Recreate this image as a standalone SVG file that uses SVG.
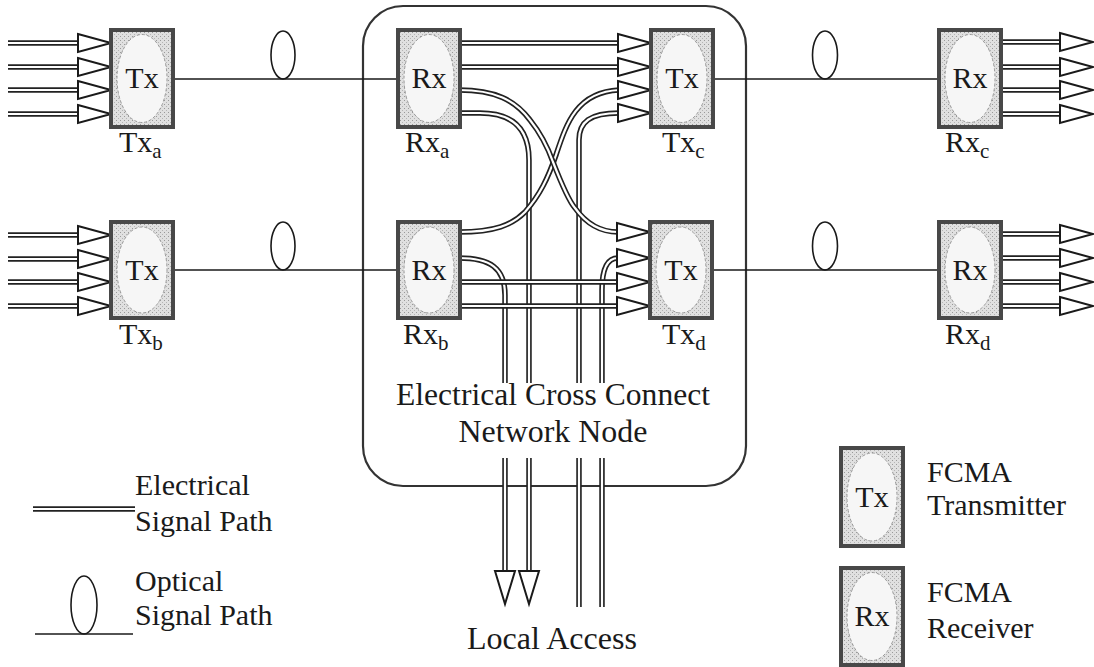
<svg xmlns="http://www.w3.org/2000/svg" xmlns:xlink="http://www.w3.org/1999/xlink" width="1094" height="667" viewBox="0 0 1094 667" font-family="'Liberation Serif', 'Times New Roman', serif">
<style>
text{font-family:'Liberation Serif','Times New Roman',serif;fill:#1a1a1a}
.lbl{font-size:30px}
.sub{font-size:21px}
.big{font-size:31px}
.box{fill:url(#stip);stroke:#484848;stroke-width:4}
.oval{fill:#f6f6f6;stroke:#9a9a9a;stroke-width:1;stroke-dasharray:3 2}
.po{fill:none;stroke:#222;stroke-width:5.5}
.pi{fill:none;stroke:#fff;stroke-width:2.2}
.head{fill:#fff;stroke:#1a1a1a;stroke-width:2;stroke-linejoin:miter}
.opt{fill:none;stroke:#1a1a1a;stroke-width:1.6}
.frame{fill:none;stroke:#333;stroke-width:2.2}
</style>
<defs>
<pattern id="stip" width="4" height="4" patternUnits="userSpaceOnUse">
<rect width="4" height="4" fill="#e0e0e0"/>
<rect x="0" y="0" width="1" height="1" fill="#999"/>
<rect x="2" y="2" width="1" height="1" fill="#b5b5b5"/>
</pattern>
<polygon id="ahR" class="head" points="-33,-9 0,0 -33,9"/>
<polygon id="ahD" class="head" points="-10,-33 0,0 10,-33"/>
</defs>
<rect width="1094" height="667" fill="#fff"/>

<g id="crossconnect">
<rect class="frame" x="363" y="6" width="383" height="480" rx="40"/>
<text class="big" x="553" y="405" text-anchor="middle" textLength="314" lengthAdjust="spacingAndGlyphs">Electrical Cross Connect</text>
<text class="big" x="553" y="442" text-anchor="middle" textLength="189" lengthAdjust="spacingAndGlyphs">Network Node</text>
</g>

<g id="optical">
<path class="opt" d="M173,79 H398 M712,79 H939 M173,270 H398 M711,270 H939"/>
<ellipse class="opt" cx="283" cy="55" rx="12" ry="24"/>
<ellipse class="opt" cx="825" cy="55" rx="12.5" ry="24"/>
<ellipse class="opt" cx="283" cy="246" rx="12" ry="24"/>
<ellipse class="opt" cx="825" cy="246" rx="12.5" ry="24"/>
</g>

<g id="connectors">
<path class="po" d="M8,43 H79 M8,67 H79 M8,90 H79 M8,114 H79 M8,235 H79 M8,259 H79 M8,282 H79 M8,306 H79"/>
<path class="pi" d="M8,43 H79 M8,67 H79 M8,90 H79 M8,114 H79 M8,235 H79 M8,259 H79 M8,282 H79 M8,306 H79"/>
<use xlink:href="#ahR" x="111" y="43"/><use xlink:href="#ahR" x="111" y="67"/><use xlink:href="#ahR" x="111" y="90"/><use xlink:href="#ahR" x="111" y="114"/>
<use xlink:href="#ahR" x="111" y="235"/><use xlink:href="#ahR" x="111" y="259"/><use xlink:href="#ahR" x="111" y="282"/><use xlink:href="#ahR" x="111" y="306"/>
<path class="po" d="M999,42 H1061 M999,67 H1061 M999,90 H1061 M999,114 H1061 M999,234 H1061 M999,258 H1061 M999,282 H1061 M999,306 H1061"/>
<path class="pi" d="M999,42 H1061 M999,67 H1061 M999,90 H1061 M999,114 H1061 M999,234 H1061 M999,258 H1061 M999,282 H1061 M999,306 H1061"/>
<use xlink:href="#ahR" x="1093" y="42"/><use xlink:href="#ahR" x="1093" y="67"/><use xlink:href="#ahR" x="1093" y="90"/><use xlink:href="#ahR" x="1093" y="114"/>
<use xlink:href="#ahR" x="1093" y="234"/><use xlink:href="#ahR" x="1093" y="258"/><use xlink:href="#ahR" x="1093" y="282"/><use xlink:href="#ahR" x="1093" y="306"/>
<path class="po" d="M459,258 C490,258 505,268 505,295 V383 M505,458 V572"/>
<path class="pi" d="M459,258 C490,258 505,268 505,295 V383 M505,458 V572"/>
<path class="po" d="M459,113 H480 C512,113 529,128 529,160 V383 M529,458 V572"/>
<path class="pi" d="M459,113 H480 C512,113 529,128 529,160 V383 M529,458 V572"/>
<path class="po" d="M579,607 V458 M579,383 V140 C579,122 590,113 619,113"/>
<path class="pi" d="M579,607 V458 M579,383 V140 C579,122 590,113 619,113"/>
<path class="po" d="M602,607 V458 M602,383 V290 C602,270 606,258 618,258"/>
<path class="pi" d="M602,607 V458 M602,383 V290 C602,270 606,258 618,258"/>
<path class="po" d="M459,282 H618 M459,306 H618"/>
<path class="pi" d="M459,282 H618 M459,306 H618"/>
<path class="po" d="M459,232 C495,232 512,225 525,212 C540,195 548,178 556,155 C566,125 576,92 619,90"/>
<path class="pi" d="M459,232 C495,232 512,225 525,212 C540,195 548,178 556,155 C566,125 576,92 619,90"/>
<path class="po" d="M459,90 C495,90 515,100 530,120 C542,135 548,148 553,162 C560,180 568,200 575,208 C585,222 598,232 618,232"/>
<path class="pi" d="M459,90 C495,90 515,100 530,120 C542,135 548,148 553,162 C560,180 568,200 575,208 C585,222 598,232 618,232"/>
<path class="po" d="M459,43 H619 M459,67 H619"/>
<path class="pi" d="M459,43 H619 M459,67 H619"/>
<use xlink:href="#ahR" x="651" y="43"/><use xlink:href="#ahR" x="651" y="67"/><use xlink:href="#ahR" x="651" y="90"/><use xlink:href="#ahR" x="651" y="113"/>
<use xlink:href="#ahR" x="650" y="232"/><use xlink:href="#ahR" x="650" y="258"/><use xlink:href="#ahR" x="650" y="282"/><use xlink:href="#ahR" x="650" y="306"/>
<use xlink:href="#ahD" x="505" y="604"/><use xlink:href="#ahD" x="529" y="604"/>
</g>

<g id="Tx_a"><rect class="box" x="111" y="30" width="62" height="97"/><ellipse class="oval" cx="142" cy="78.5" rx="25" ry="44"/><text class="lbl" x="142" y="88" text-anchor="middle">Tx</text><text class="lbl" x="119" y="152">Tx<tspan class="sub" dy="6">a</tspan></text></g>
<g id="Rx_a"><rect class="box" x="398" y="30" width="62" height="97"/><ellipse class="oval" cx="429" cy="78.5" rx="25" ry="44"/><text class="lbl" x="429" y="88" text-anchor="middle">Rx</text><text class="lbl" x="405" y="152">Rx<tspan class="sub" dy="6">a</tspan></text></g>
<g id="Tx_c"><rect class="box" x="651" y="30" width="62" height="97"/><ellipse class="oval" cx="682" cy="78.5" rx="25" ry="44"/><text class="lbl" x="682" y="88" text-anchor="middle">Tx</text><text class="lbl" x="662" y="152">Tx<tspan class="sub" dy="6">c</tspan></text></g>
<g id="Rx_c"><rect class="box" x="939" y="30" width="62" height="97"/><ellipse class="oval" cx="970" cy="78.5" rx="25" ry="44"/><text class="lbl" x="970" y="88" text-anchor="middle">Rx</text><text class="lbl" x="945" y="152">Rx<tspan class="sub" dy="6">c</tspan></text></g>
<g id="Tx_b"><rect class="box" x="111" y="222" width="62" height="96"/><ellipse class="oval" cx="142" cy="270" rx="25" ry="43"/><text class="lbl" x="142" y="280" text-anchor="middle">Tx</text><text class="lbl" x="119" y="344">Tx<tspan class="sub" dy="6">b</tspan></text></g>
<g id="Rx_b"><rect class="box" x="398" y="222" width="62" height="96"/><ellipse class="oval" cx="429" cy="270" rx="25" ry="43"/><text class="lbl" x="429" y="280" text-anchor="middle">Rx</text><text class="lbl" x="403" y="344">Rx<tspan class="sub" dy="6">b</tspan></text></g>
<g id="Tx_d"><rect class="box" x="650" y="222" width="62" height="96"/><ellipse class="oval" cx="681" cy="270" rx="25" ry="43"/><text class="lbl" x="681" y="280" text-anchor="middle">Tx</text><text class="lbl" x="662" y="344">Tx<tspan class="sub" dy="6">d</tspan></text></g>
<g id="Rx_d"><rect class="box" x="939" y="222" width="62" height="96"/><ellipse class="oval" cx="970" cy="270" rx="25" ry="43"/><text class="lbl" x="970" y="280" text-anchor="middle">Rx</text><text class="lbl" x="945" y="344">Rx<tspan class="sub" dy="6">d</tspan></text></g>

<g id="local_access"><text class="big" x="552" y="649" text-anchor="middle" textLength="170" lengthAdjust="spacingAndGlyphs">Local Access</text></g>

<g id="legend_electrical">
<path class="po" d="M33,509 H135"/><path class="pi" d="M33,509 H135"/>
<text class="lbl" x="135" y="495">Electrical</text>
<text class="lbl" x="135" y="531">Signal Path</text>
</g>
<g id="legend_optical">
<path class="opt" d="M35,634 H133"/>
<ellipse class="opt" cx="84" cy="605" rx="13" ry="29"/>
<text class="lbl" x="135" y="591">Optical</text>
<text class="lbl" x="135" y="625">Signal Path</text>
</g>
<g id="legend_tx">
<rect class="box" x="841" y="448" width="62" height="98"/><ellipse class="oval" cx="872" cy="497" rx="25" ry="44"/>
<text class="lbl" x="872" y="507" text-anchor="middle">Tx</text>
<text class="lbl" x="927" y="482">FCMA</text>
<text class="lbl" x="927" y="515">Transmitter</text>
</g>
<g id="legend_rx">
<rect class="box" x="841" y="568" width="62" height="97"/><ellipse class="oval" cx="872" cy="616.5" rx="25" ry="44"/>
<text class="lbl" x="872" y="626" text-anchor="middle">Rx</text>
<text class="lbl" x="927" y="602">FCMA</text>
<text class="lbl" x="927" y="638">Receiver</text>
</g>
</svg>
